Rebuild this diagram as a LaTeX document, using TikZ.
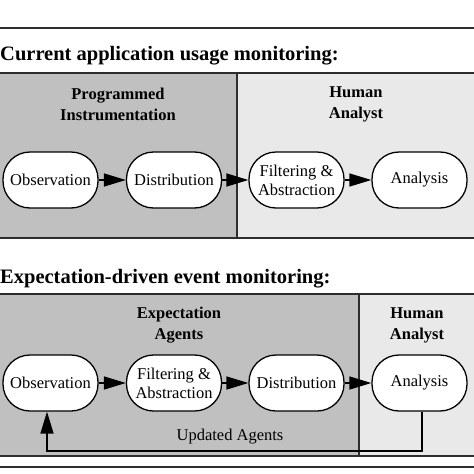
\documentclass[tikz,border=0pt]{standalone}
\usepackage{fontspec}
\setmainfont{Liberation Serif}
\usetikzlibrary{arrows.meta}
\definecolor{darkpanel}{RGB}{192,192,192}
\definecolor{lightpanel}{RGB}{233,233,233}
\definecolor{rulec}{RGB}{45,45,45}
\begin{document}
\begin{tikzpicture}[x=1pt,y=-1pt,
 proc/.style={draw=black, fill=white, line width=1.3pt, rounded corners=27pt, minimum width=95pt, minimum height=56pt, inner sep=0pt, align=center, font=\fontsize{16.5}{19}\selectfont},
 hdr/.style={align=center, font=\fontsize{16.5}{21}\selectfont\bfseries},
 ttl/.style={anchor=base west, font=\fontsize{20.5}{24}\selectfont\bfseries, inner sep=0pt},
 flow/.style={line width=1.5pt, -{Triangle[length=22pt,width=13pt]}},
 panel/.style={draw=rulec, line width=1.5pt}]
\useasboundingbox (0,0) rectangle (474,474);
% rules
\draw[panel] (-2,28) -- (476,28);
\draw[panel] (-2,467) -- (476,467);
% panel 1
\fill[darkpanel] (-2,73) rectangle (237,238);
\fill[lightpanel] (237,73) rectangle (476,238);
\draw[panel] (-2,73) -- (476,73);
\draw[panel] (-2,238) -- (476,238);
\draw[panel] (237,73) -- (237,238);
% panel 2
\fill[darkpanel] (-2,294) rectangle (359,456);
\fill[lightpanel] (359,294) rectangle (476,456);
\draw[panel] (-2,294) -- (476,294);
\draw[panel] (-2,456) -- (476,456);
\draw[panel] (359,294) -- (359,456);
% titles
\node[ttl] (t1) at (0,60) {Current application usage monitoring:};
\node[ttl] (t2) at (0,283) {Expectation-driven event monitoring:};
% headers
\node[hdr] (h1) at (118,104) {Programmed\\Instrumentation};
\node[hdr] (h2) at (356,104) {Human\\Analyst};
\node[hdr] (h3) at (179,325) {Expectation\\Agents};
\node[hdr] (h4) at (417,325) {Human\\Analyst};
% row 1
\node[proc] (o1) at (50.5,180) {Observation};
\node[proc] (d1) at (174,180) {Distribution};
\node[proc] (f1) at (296.5,180) {Filtering \&\\Abstraction};
\node[proc] (a1) at (419.5,180) {Analysis};
\draw[flow] (o1) -- (d1);
\draw[flow] (d1) -- (f1);
\draw[flow] (f1) -- (a1);
% row 2
\node[proc] (o2) at (50.5,383) {Observation};
\node[proc] (f2) at (174,383) {Filtering \&\\Abstraction};
\node[proc] (d2) at (296.5,383) {Distribution};
\node[proc] (a2) at (419.5,383) {Analysis};
\draw[flow] (o2) -- (f2);
\draw[flow] (f2) -- (d2);
\draw[flow] (d2) -- (a2);
\coordinate (fbr) at (422,451);
\coordinate (fbl) at (47,451);
\draw[flow] (a2.south -| fbr) -- (fbr) -- (fbl) -- (fbl |- o2.south);
\node[font=\fontsize{16.5}{19}\selectfont] (ua) at (230,437) {Updated Agents};
\end{tikzpicture}
\end{document}
